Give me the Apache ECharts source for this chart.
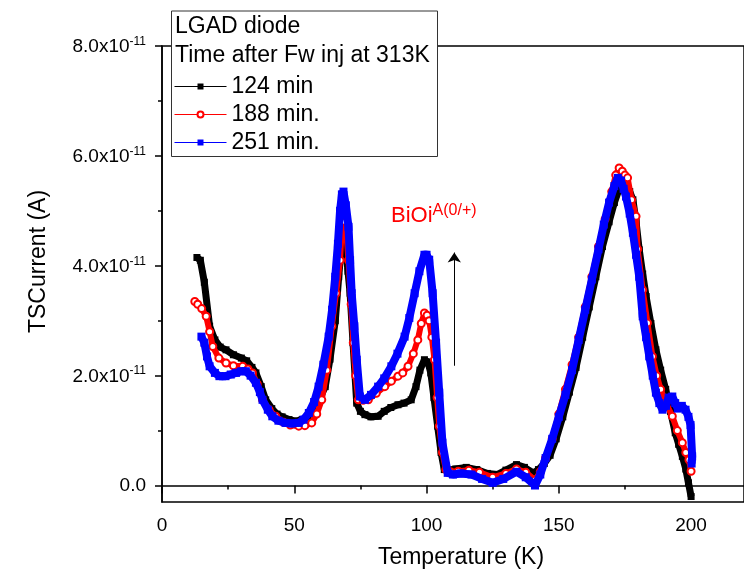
<!DOCTYPE html>
<html><head><meta charset="utf-8">
<script src="https://cdn.jsdelivr.net/npm/echarts@6/dist/echarts.min.js"></script>
<style>html,body{margin:0;padding:0;background:#fff}#c{width:744px;height:574px}</style>
</head><body><div id="c"></div>
<script>
const FONT = "'Liberation Sans', Arial, sans-serif";
// Current values are in units of 1e-11 A
const seriesNames = ['124 min', '188 min.', '251 min.'];
const xTicks = [0, 50, 100, 150, 200];
const xMinorTicks = [25, 75, 125, 175];
const yTicks = [0, 2, 4, 6, 8];
const yMinorTicks = [1, 3, 5, 7];

const tempBlack = [13.2,14.5,16,18,20,22,24.2,27,30,32,34,35.5,37.5,39.2,41.5,43.5,45.4,48,50.5,53,55,56.6,58.5,60,61.7,63.5,65.5,66.8,68,68.8,69.5,70.3,71.1,72.2,73.6,75,76.7,79,81.7,84,86.5,89.2,91.5,94.2,96,97.5,99.2,100.5,101.6,102.8,104.2,105.5,106.7,108.5,111,115,119,123,126.7,130,134,137,140.4,142.3,144.5,146.7,149,151.5,154,156.5,159,161.5,164,166.5,169,171,172.8,174,175.5,176.8,178,179.2,180.4,181.7,183,184.8,186.7,188.5,190.4,192.2,194,195.3,196.7,198,199,200];
const curBlack = [4.15,4.1,3.7,2.9,2.65,2.52,2.47,2.38,2.32,2.27,2.15,2.05,1.8,1.56,1.4,1.3,1.25,1.2,1.17,1.2,1.25,1.33,1.5,1.62,1.8,2.3,3.0,3.8,4.47,4.5,4.3,3.9,3.5,2.6,1.5,1.35,1.29,1.25,1.26,1.35,1.42,1.47,1.5,1.56,1.8,2.1,2.29,2.25,2.05,1.6,1.08,0.6,0.29,0.28,0.3,0.33,0.29,0.22,0.2,0.28,0.38,0.33,0.23,0.29,0.4,0.55,0.85,1.25,1.7,2.15,2.7,3.25,3.8,4.35,4.8,5.15,5.4,5.5,5.45,5.35,5.2,4.8,4.29,3.85,3.44,2.95,2.47,2.1,1.75,1.35,0.96,0.75,0.53,0.3,0.05,-0.2];

const tempRed = [12.4,13.5,15,16.7,18,19.2,21.5,24.2,27,30.5,32.5,34.2,36,38,40.5,43,46,48.5,51.7,54,56.6,58.5,60.4,62.3,64.2,65.8,67.3,68.3,69.3,70.5,71.5,72.3,73.2,74.2,76,78,81,84.2,86.7,89.2,91,93,95,96.7,98,99.2,100.2,101,102,103,104,104.8,106,107.3,109,112,116,120,125,130,134,137.5,141,143,145,147.5,150,152.5,155,157.5,160,162.5,165,167.5,170,171.5,172.8,174,175,176,177.5,179.2,179.8,181.7,183.5,185.4,187,188.5,190.5,192.9,194.8,196.7,198,199.2,200];
const curRed = [3.35,3.3,3.22,3.08,2.8,2.53,2.32,2.23,2.18,2.17,2.12,2.05,1.85,1.56,1.38,1.26,1.15,1.1,1.08,1.09,1.14,1.3,1.56,2.1,2.9,3.5,4.1,5.0,4.8,4.1,3.3,2.6,2.0,1.56,1.55,1.56,1.68,1.8,1.9,1.99,2.05,2.17,2.4,2.65,2.95,3.14,3.1,3.0,2.7,2.29,1.6,1.08,0.6,0.29,0.25,0.26,0.28,0.24,0.15,0.22,0.3,0.24,0.1,0.25,0.5,0.85,1.3,1.75,2.2,2.7,3.25,3.8,4.35,4.85,5.35,5.65,5.78,5.72,5.65,5.6,5.2,4.9,4.3,3.56,2.96,2.35,2.0,1.75,1.5,1.26,1.0,0.78,0.6,0.47,0.26];

const tempBlue = [14.9,16,17,18,20,21.7,24,26,28,30,31.7,33.5,35.5,37,38,40,41.7,44,46.7,49,51.7,53.5,55.5,57.5,59.2,61,63,64.3,65.5,66.5,67.3,68,68.6,69.5,70.5,71.1,71.7,72.7,73.6,74.8,76.7,79,81.7,84,86.7,89,91.7,93.5,95.5,97.3,99.2,100,101,102.3,103.6,104.8,106,108,110,113,117,121,125,129,134,137.5,141,143,145,147.5,150,152.5,155,157.5,160,162.5,165,167,169,171,172.3,173.5,174.5,175.4,176.8,178,179.2,180.4,181.7,183,184.2,185.5,186.7,188,189.2,190.5,191.5,192.9,194,195,196.5,197.9,199,199.8,200.4,200.2];
const curBlue = [2.71,2.6,2.35,2.17,2.05,1.99,1.99,2.02,2.05,2.08,2.08,2.0,1.87,1.7,1.56,1.38,1.26,1.18,1.14,1.13,1.14,1.2,1.32,1.52,1.8,2.2,2.71,3.2,3.8,4.4,5.0,5.3,5.35,5.1,4.71,4.1,3.5,2.9,2.29,1.62,1.56,1.65,1.8,1.95,2.17,2.4,2.71,3.05,3.5,3.9,4.2,4.2,4.11,3.5,2.6,1.69,0.78,0.23,0.2,0.22,0.2,0.12,0.05,0.12,0.25,0.15,0.0,0.2,0.5,0.85,1.25,1.65,2.1,2.65,3.2,3.75,4.3,4.75,5.15,5.45,5.6,5.55,5.4,5.26,4.95,4.6,4.2,3.8,3.08,2.7,2.35,2.0,1.69,1.5,1.38,1.45,1.6,1.62,1.5,1.4,1.45,1.38,1.25,1.1,0.53,0.4];

const pairs = (t, v) => t.map((x, i) => [x, v[i]]);
const supLabel = v => v === 0 ? '{m|0.0}' : '{m|' + v.toFixed(1) + 'x10}{s|-11}';

const chart = echarts.init(document.getElementById('c'), null, {renderer: 'canvas'});
const axisBlack = {color: '#000', width: 1.5};
chart.setOption({
  animation: false,
  backgroundColor: '#fff',
  textStyle: {fontFamily: FONT},
  grid: {left: 162, top: 46, width: 587, height: 457, show: true, borderColor: '#000', borderWidth: 1.5},
  xAxis: [{
    type: 'value', min: 0, max: 220, position: 'bottom',
    axisLine: {lineStyle: axisBlack},
    axisTick: {customValues: xTicks, length: 8, lineStyle: axisBlack},
    axisLabel: {customValues: xTicks, fontSize: 19, color: '#000', margin: 14, fontFamily: FONT},
    splitLine: {show: false},
    name: 'Temperature (K)', nameLocation: 'middle', nameGap: 44,
    nameTextStyle: {fontSize: 23, color: '#000', fontFamily: FONT, padding: [0, 0, 0, 16]}
  }, {
    type: 'value', min: 0, max: 220, position: 'bottom',
    axisLine: {show: false},
    axisTick: {customValues: xMinorTicks, length: 4, lineStyle: axisBlack},
    axisLabel: {show: false}, splitLine: {show: false}
  }],
  yAxis: [{
    type: 'value', min: -0.3, max: 8, position: 'left',
    axisLine: {lineStyle: axisBlack},
    axisTick: {customValues: yTicks, length: 7, lineStyle: axisBlack},
    axisLabel: {customValues: yTicks, color: '#000', margin: 16, formatter: supLabel,
      rich: {m: {fontSize: 19, fontFamily: FONT, color: '#000', verticalAlign: 'bottom'},
             s: {fontSize: 12, fontFamily: FONT, color: '#000', verticalAlign: 'bottom', padding: [0, 0, 9, 0]}}},
    splitLine: {show: false},
    name: 'TSCurrent (A)', nameLocation: 'middle', nameGap: 112,
    nameTextStyle: {fontSize: 23, color: '#000', fontFamily: FONT, padding: [0, 0, 0, 25]}
  }, {
    type: 'value', min: -0.3, max: 8, position: 'left',
    axisLine: {show: false},
    axisTick: {customValues: yMinorTicks, length: 4, lineStyle: axisBlack},
    axisLabel: {show: false}, splitLine: {show: false}
  }],
  legend: {
    orient: 'vertical', left: 174, top: 75, z: 6, padding: 0,
    itemWidth: 52, itemHeight: 7.5, itemGap: 5,
    data: seriesNames,
    lineStyle: {width: 1},
    textStyle: {fontSize: 23, color: '#000', fontFamily: FONT}
  },
  graphic: [
    {type: 'rect', z: 4, shape: {x: 171.5, y: 11, width: 266, height: 145.5}, style: {fill: '#fff', stroke: '#333', lineWidth: 1}},
    {type: 'text', z: 5, x: 175, y: 27, style: {text: 'LGAD diode', fontSize: 23, fontFamily: FONT, fill: '#000', verticalAlign: 'middle', align: 'left'}},
    {type: 'text', z: 5, x: 175, y: 56, style: {text: 'Time after Fw inj at 313K', fontSize: 23, fontFamily: FONT, fill: '#000', verticalAlign: 'middle', align: 'left'}},
    {type: 'text', z: 5, x: 391, y: 227, style: {text: '{b|BiOi}{s|A(0/+)}', verticalAlign: 'bottom', align: 'left',
      rich: {b: {fontSize: 22, fontFamily: FONT, fill: '#ff0000', verticalAlign: 'bottom'},
             s: {fontSize: 16, fontFamily: FONT, fill: '#ff0000', verticalAlign: 'bottom', padding: [0, 0, 8, 0]}}}}
  ],
  series: [{
    name: seriesNames[0], type: 'line', data: pairs(tempBlack, curBlack),
    symbol: 'rect', symbolSize: 7, itemStyle: {color: '#000'},
    lineStyle: {color: '#000', width: 7}, z: 2,
    markLine: {silent: true, symbol: ['none', 'arrow'], symbolSize: 10, label: {show: false},
      lineStyle: {color: '#000', width: 1, type: 'solid'},
      data: [[{coord: [110.5, 2.18]}, {coord: [110.5, 4.24]}]]}
  }, {
    name: seriesNames[1], type: 'line', data: pairs(tempRed, curRed),
    symbol: 'emptyCircle', symbolSize: 7, itemStyle: {color: '#ff0000', borderColor: '#ff0000'},
    lineStyle: {color: '#ff0000', width: 6}, z: 3
  }, {
    name: seriesNames[2], type: 'line', data: pairs(tempBlue, curBlue),
    symbol: 'rect', symbolSize: 8, itemStyle: {color: '#0000ff'},
    lineStyle: {color: '#0000ff', width: 8}, z: 4
  }]
});
</script></body></html>
